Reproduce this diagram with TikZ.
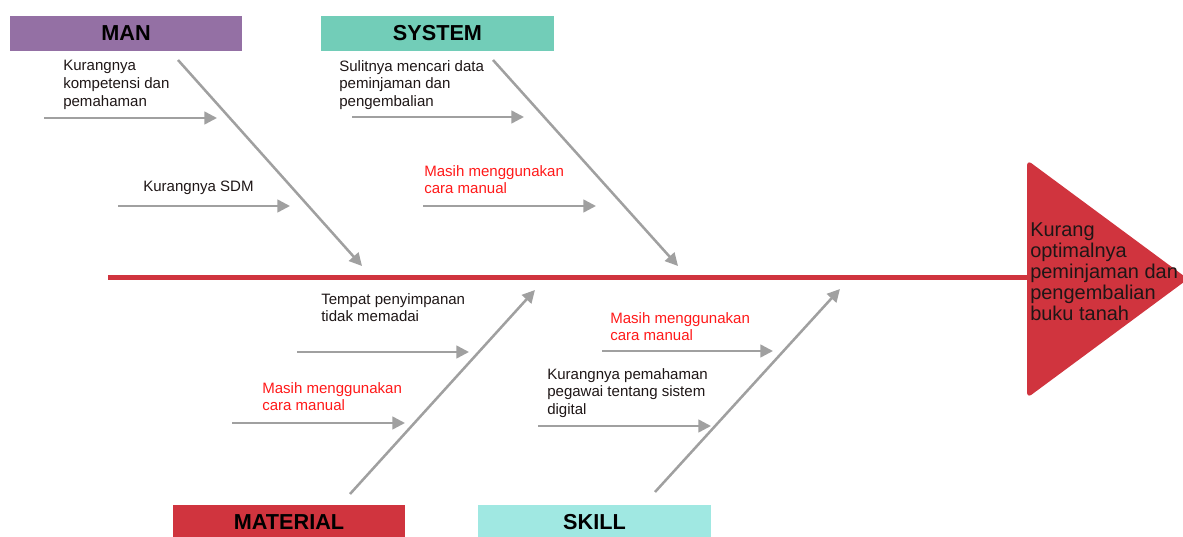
\documentclass[tikz,border=0pt]{standalone}
\usepackage{fontspec}
\setmainfont{Liberation Sans}
\usetikzlibrary{arrows.meta}
\definecolor{merah}{RGB}{208,52,62}
\definecolor{ungu}{RGB}{148,112,164}
\definecolor{hijau}{RGB}{114,205,184}
\definecolor{tosca}{RGB}{160,232,226}
\definecolor{abu}{RGB}{160,160,160}
\definecolor{merahteks}{RGB}{255,25,25}
\definecolor{gelap}{RGB}{30,22,22}
\begin{document}
\begin{tikzpicture}[x=0.025cm, y=-0.025cm, line width=1.8pt, >={Triangle[length=9pt,width=9pt]},
  kategori/.style={minimum width=5.8cm, minimum height=0.875cm, inner sep=0pt, font=\fontsize{15.4}{18}\selectfont\bfseries},
  tulang/.style={draw=abu, ->},
  sebab/.style={anchor=north west, align=left, inner sep=0pt, text=gelap, font=\fontsize{10.7}{12.6}\selectfont},
  sebabmerah/.style={sebab, text=merahteks}]
  \useasboundingbox (0,0) rectangle (1183,537);
  % 머리 (결과)
  \fill[merah, rounded corners=4pt] (1027,160) -- (1188,279) -- (1027,398) -- cycle;
  \node[anchor=north west, align=left, inner sep=0pt, text=gelap, font=\fontsize{14.2}{15.1}\selectfont] (akibat) at (1029,221)
    {Kurang\\optimalnya\\peminjaman dan\\pengembalian\\buku tanah};
  % 등뼈
  \coordinate (ekor) at (108,277.5);
  \coordinate (kepala) at (1027,277.5);
  \draw[merah, line width=3.6pt] (ekor) -- (kepala);
  % 분류 상자
  \node[kategori, fill=ungu] (man) at (126,33.5) {MAN};
  \node[kategori, fill=hijau] (system) at (437.5,33.5) {SYSTEM};
  \node[kategori, fill=merah] (material) at (289,522.5) {MATERIAL};
  \node[kategori, fill=tosca] (skill) at (594.5,522.5) {SKILL};
  % 큰 뼈
  \coordinate (man-a) at (178,60);      \coordinate (man-b) at (362,266);
  \coordinate (system-a) at (493,60);   \coordinate (system-b) at (678,266);
  \coordinate (material-a) at (350,494); \coordinate (material-b) at (535,290);
  \coordinate (skill-a) at (655,492);   \coordinate (skill-b) at (840,289);
  \draw[tulang] (man-a) -- (man-b);
  \draw[tulang] (system-a) -- (system-b);
  \draw[tulang] (material-a) -- (material-b);
  \draw[tulang] (skill-a) -- (skill-b);
  % 작은 뼈와 원인
  \coordinate (m1a) at (44,118);  \coordinate (m1b) at (217,118);
  \coordinate (m2a) at (118,206); \coordinate (m2b) at (290,206);
  \coordinate (s1a) at (352,117); \coordinate (s1b) at (524,117);
  \coordinate (s2a) at (423,206); \coordinate (s2b) at (596,206);
  \coordinate (t1a) at (297,352); \coordinate (t1b) at (469,352);
  \coordinate (t2a) at (232,423); \coordinate (t2b) at (405,423);
  \coordinate (k1a) at (602,351); \coordinate (k1b) at (773,351);
  \coordinate (k2a) at (538,426); \coordinate (k2b) at (711,426);
  \foreach \a/\b in {m1a/m1b, m2a/m2b, s1a/s1b, s2a/s2b, t1a/t1b, t2a/t2b, k1a/k1b, k2a/k2b}
    \draw[tulang] (\a) -- (\b);
  \node[sebab] (m1) at (62,59) {Kurangnya\\kompetensi dan\\pemahaman};
  \node[sebab] (m2) at (142,180) {Kurangnya SDM};
  \node[sebab] (s1) at (338,59) {Sulitnya mencari data\\peminjaman dan\\pengembalian};
  \node[sebabmerah] (s2) at (423,164) {Masih menggunakan\\cara manual};
  \node[sebab] (t1) at (320,292) {Tempat penyimpanan\\tidak memadai};
  \node[sebabmerah] (t2) at (261,381) {Masih menggunakan\\cara manual};
  \node[sebabmerah] (k1) at (609,311) {Masih menggunakan\\cara manual};
  \node[sebab] (k2) at (546,367) {Kurangnya pemahaman\\pegawai tentang sistem\\digital};
\end{tikzpicture}
\end{document}
